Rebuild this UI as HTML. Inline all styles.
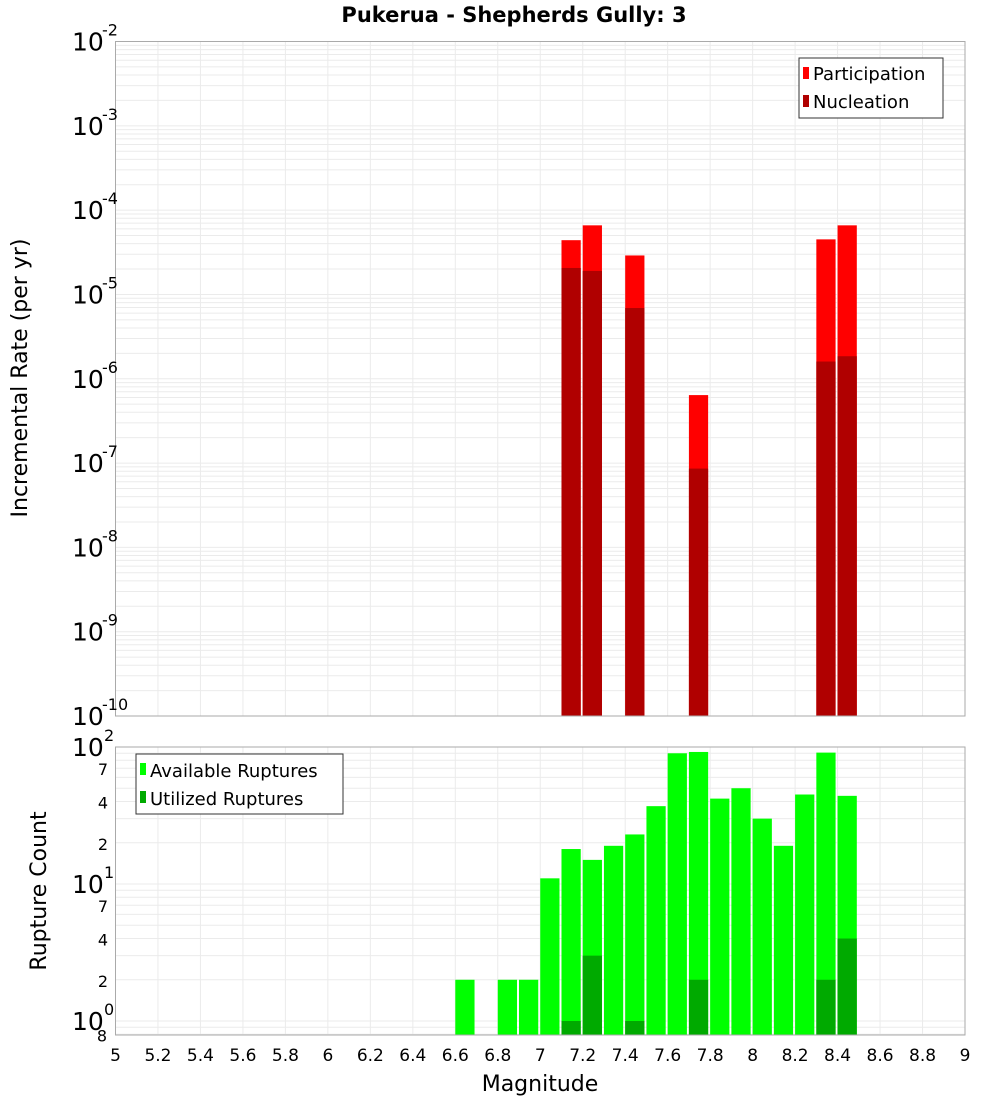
<!DOCTYPE html>
<html><head><meta charset="utf-8"><style>body{margin:0;background:#fff}svg{display:block;font-family:"DejaVu Sans","Liberation Sans",sans-serif}</style></head>
<body>
<svg id="c" width="1000" height="1100" xmlns="http://www.w3.org/2000/svg">
<text x="514" y="22" text-anchor="middle" font-size="21" font-weight="bold">Pukerua - Shepherds Gully: 3</text>
<g id="gtop"></g>
<g id="gbot"></g>
<text transform="translate(27,378) rotate(-90)" text-anchor="middle" font-size="22">Incremental Rate (per yr)</text>
<text transform="translate(46,891) rotate(-90)" text-anchor="middle" font-size="22">Rupture Count</text>
<text x="540" y="1091" text-anchor="middle" font-size="22">Magnitude</text>
<g>
<rect x="799" y="58" width="144" height="60" fill="#fff" stroke="#333"/>
<rect x="803" y="67" width="6" height="12" fill="#ff0000"/>
<text x="813" y="80" font-size="18">Participation</text>
<rect x="803" y="95" width="6" height="12" fill="#b00000"/>
<text x="813" y="108" font-size="18">Nucleation</text>
</g>
<g>
<rect x="136" y="754" width="207" height="60" fill="#fff" stroke="#333"/>
<rect x="140" y="763" width="6" height="12" fill="#00ff00"/>
<text x="150" y="777" font-size="18">Available Ruptures</text>
<rect x="140" y="791" width="6" height="12" fill="#00aa00"/>
<text x="150" y="805" font-size="18">Utilized Ruptures</text>
</g>
</svg>
<script>
const mags=[7.1,7.2,7.4,7.7,8.3,8.4];
const participation=[4.4e-5,6.6e-5,2.9e-5,6.4e-7,4.5e-5,6.6e-5];
const nucleation=[2.06e-5,1.9e-5,6.9e-6,8.6e-8,1.6e-6,1.85e-6];
const countMags=[6.6,6.8,6.9,7.0,7.1,7.2,7.3,7.4,7.5,7.6,7.7,7.8,7.9,8.0,8.1,8.2,8.3,8.4];
const available=[2,2,2,11,18,15,19,23,37,90,92,42,50,30,19,45,91,44];
const utilized=[0,0,0,0,1,3,0,1,0,0,2,0,0,0,0,0,2,4];
const xTicks=[5,5.2,5.4,5.6,5.8,6,6.2,6.4,6.6,6.8,7,7.2,7.4,7.6,7.8,8,8.2,8.4,8.6,8.8,9];
const topExps=[-2,-3,-4,-5,-6,-7,-8,-9,-10];

const NS='http://www.w3.org/2000/svg';
const svgEl=document.getElementById('c');
function mk(p,t,a){const e=document.createElementNS(NS,t);for(const k in a)e.setAttribute(k,a[k]);p.appendChild(e);return e;}
const X0=115.5,X1=965;
const xs=m=>X0+(m-5)/4*(X1-X0);
const T0=41.5,T1=716;
const yTop=v=>T0+(-2-Math.log10(v))/8*(T1-T0);
const B0=747,B1=1035,BD=137;
const yBot=v=>B0+(2-Math.log10(v))*BD;

const gTop=document.getElementById('gtop'),gBot=document.getElementById('gbot');
function grid(g,ya,yb,yf,lo,hi){
  for(let e=lo;e<hi;e++)for(let k=1;k<10;k++){const y=yf(k*Math.pow(10,e));if(y<ya-0.5||y>yb+0.5)continue;
    const l=mk(g,'line',{x1:X0,x2:X1,y1:y,y2:y,stroke:'#ebebeb','stroke-width':1});
    
    }
  xTicks.forEach(t=>{const l=mk(g,'line',{x1:xs(t),x2:xs(t),y1:ya,y2:yb,stroke:'#ebebeb','stroke-width':1});
    
    });
}
grid(gTop,T0,T1,yTop,-10,-2);
grid(gBot,B0,B1,yBot,-1,2);
const W=(xs(5.1)-xs(5))-2;
mags.forEach((m,i)=>{
  const r1=mk(gTop,'rect',{x:xs(m),y:yTop(participation[i]),width:W,height:T1-yTop(participation[i]),fill:'#ff0000'});
  
  
  const r2=mk(gTop,'rect',{x:xs(m),y:yTop(nucleation[i]),width:W,height:T1-yTop(nucleation[i]),fill:'#b00000'});
  
  
});
countMags.forEach((m,i)=>{
  const r1=mk(gBot,'rect',{x:xs(m),y:yBot(available[i]),width:W,height:B1-yBot(available[i]),fill:'#00ff00'});
  
  
  if(utilized[i]>0){const r2=mk(gBot,'rect',{x:xs(m),y:yBot(utilized[i]),width:W,height:B1-yBot(utilized[i]),fill:'#00aa00'});
  
  }
});
mk(gTop,'rect',{x:X0,y:T0,width:X1-X0,height:T1-T0,fill:'none',stroke:'#aaa'});
mk(gBot,'rect',{x:X0,y:B0,width:X1-X0,height:B1-B0,fill:'none',stroke:'#aaa'});
topExps.forEach(e=>{const y=yTop(Math.pow(10,e));
  const t=mk(gTop,'text',{x:72,y:y+9,'font-size':25});t.textContent='10';
  
  
  const s=mk(gTop,'text',{x:102,y:y-6,'font-size':16});s.textContent=String(e);
  
  });
[[2,'2'],[1,'1'],[0,'0']].forEach(([e,s])=>{const y=yBot(Math.pow(10,e));
  const t=mk(gBot,'text',{x:72,y:y+9,'font-size':25});t.textContent='10';
  
  
  const u=mk(gBot,'text',{x:104,y:y-6,'font-size':16});u.textContent=s;
  
  });
[2,4,7,20,40,70,0.8].forEach(v=>{const y=yBot(v);const lab=v<1?'8':String(v).charAt(0);
  const t=mk(gBot,'text',{x:v<1?107:108,y:y+7,'font-size':16,'text-anchor':'end'});t.textContent=lab;
  
  });
xTicks.forEach(t=>{const e=mk(svgEl,'text',{x:xs(t),y:1061,'font-size':17,'text-anchor':'middle'});e.textContent=String(t);
  
  });
</script>
</body></html>
